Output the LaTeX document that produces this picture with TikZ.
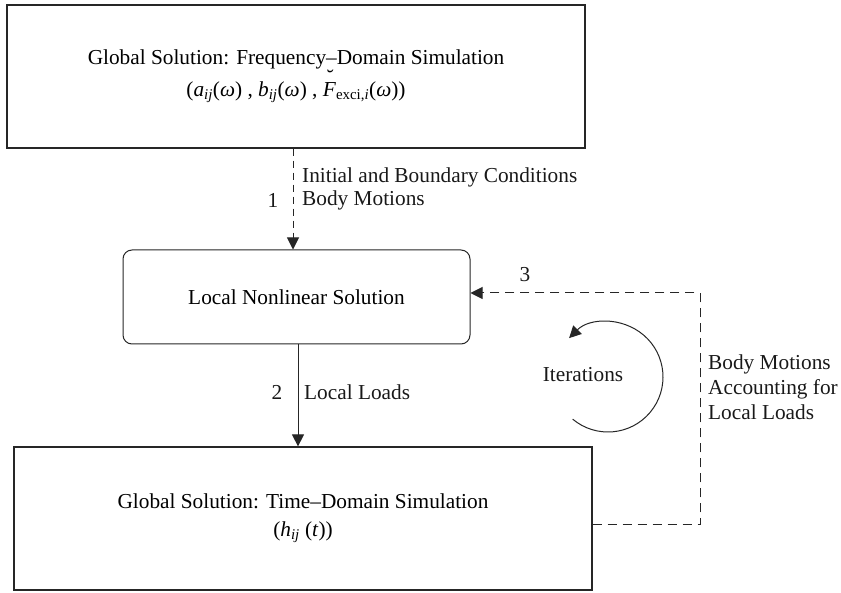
\documentclass[tikz,border=0pt]{standalone}
\usepackage{fontspec}
\setmainfont{Liberation Serif}
\usetikzlibrary{arrows.meta}
\newcommand{\brF}{\textit{F}\llap{\raisebox{0.55em}{\textit{˘}}\kern0.12em}}
\tikzset{
  line/.style={draw=black!85, line width=1pt},
  boxsq/.style={line, line width=1.2pt, minimum width=578pt, minimum height=143pt, align=center, inner sep=0pt},
  boxrd/.style={line, minimum width=347pt, minimum height=94pt, rounded corners=9pt, align=center, inner sep=0pt},
  arr/.style={line, -{Triangle[length=12pt,width=12pt]}},
  dsh/.style={dash pattern=on 7pt off 5pt},
  lbl/.style={inner sep=0pt, text=black!90},
}
\begin{document}
\begin{tikzpicture}[x=1pt,y=1pt,font=\fontsize{21.3}{25}\selectfont]
\useasboundingbox (0,0) rectangle (841,592);
\node[boxsq] (top) at (296,515.5) {Global Solution: Frequency{\textendash}Domain Simulation\\[0pt]
 (\textit{a}\textsubscript{\textit{ij}}(\textit{ω}) , \textit{b}\textsubscript{\textit{ij}}(\textit{ω}) , \brF\textsubscript{exci,\textit{i}}(\textit{ω}))};
\node[boxrd] (loc) at (296.5,295) {Local Nonlinear Solution};
\node[boxsq] (bot) at (303,73.5) {Global Solution: Time{\textendash}Domain Simulation\\[3pt]
 (\textit{h}\textsubscript{\textit{ij}} (\textit{t}))};
% arrow 1
\draw[arr,dsh] ([xshift=-3pt]top.south) -- ([xshift=-3.5pt]loc.north);
\node[lbl,anchor=west] (l1a) at (302,415) {Initial and Boundary Conditions};
\node[lbl,anchor=west] (l1b) at (302,392) {Body Motions};
\node[lbl] (n1) at (273,392) {1};
% arrow 2
\draw[arr] ([xshift=1.5pt]loc.south) -- ([xshift=-5pt]bot.north);
\node[lbl] (n2) at (277,200) {2};
\node[lbl,anchor=west] (l2) at (304,200) {Local Loads};
% arrow 3
\coordinate (c3) at (700,299);
\draw[arr,dash pattern=on 9pt off 6pt] ([yshift=-6.5pt]bot.east) -| (c3) -- (loc.east |- c3);
\node[lbl] (n3) at (525,317) {3};
\node[lbl,anchor=west,align=left] (l3) at (708,205) {Body Motions\\Accounting for\\Local Loads};
% iterations
\coordinate (cc) at (608,215);
\draw[arr] (cc) ++(230:55) arc[start angle=230, end angle=495, radius=55pt];
\node[lbl] (it) at (583,217) {Iterations};
\end{tikzpicture}
\end{document}
